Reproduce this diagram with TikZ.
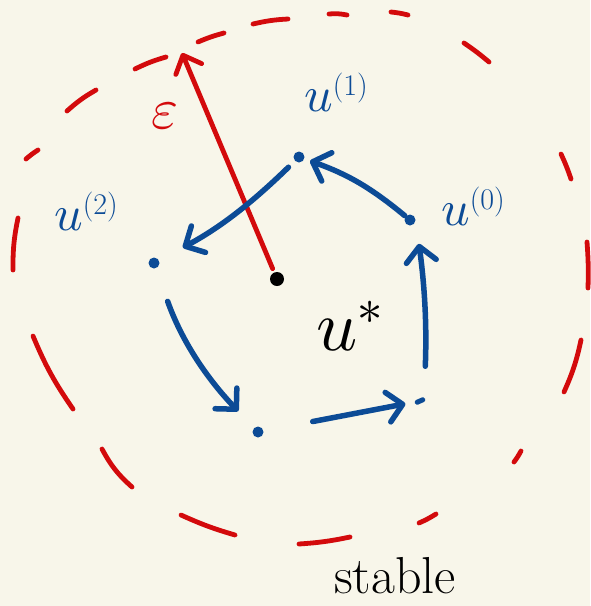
\documentclass[tikz,border=0pt]{standalone}
\usepackage{unicode-math}
\usetikzlibrary{arrows.meta}
\definecolor{bg}{RGB}{248,246,234}
\definecolor{pblue}{RGB}{12,75,150}
\definecolor{pred}{RGB}{211,10,12}
\newcommand{\suplab}[1]{\raisebox{16pt}{\fontsize{30}{30}\selectfont(#1)}}
\begin{document}
\begin{tikzpicture}[x=1pt,y=-1pt,
  bline/.style={draw=pblue,line width=5.5pt,line cap=round,line join=round},
  barrow/.style={bline,-{Straight Barb[length=15pt,width=30pt,round]}},
  rarrow/.style={draw=pred,line width=4.8pt,line cap=round,line join=round,-{Straight Barb[length=15pt,width=28pt,round]}},
  rdash/.style={draw=pred,line width=4.8pt,line cap=round},
  bdot/.style={circle,fill=pblue,inner sep=0pt,minimum size=11pt},
  bdash/.style={rectangle,fill=pblue,inner sep=0pt,minimum width=11pt,minimum height=5pt,rounded corners=2.5pt},
  kdot/.style={circle,fill=black,inner sep=0pt,minimum size=14pt},
  blab/.style={text=pblue,font=\fontsize{50}{50}\selectfont,inner sep=0pt},
  klab/.style={text=black,inner sep=0pt},
  rlab/.style={text=pred,font=\fontsize{58}{58}\selectfont,inner sep=0pt}]
\fill[bg] (0,0) rectangle (590,606);
\useasboundingbox (0,0) rectangle (590,606);
% red dashed circle
\draw[rdash] (13,270) to[bend left=6] (18,218);
\draw[rdash] (26,159) to[bend left=4] (38,150);
\draw[rdash] (67,111) to[bend left=6] (96,90);
\draw[rdash] (135,69) to[bend left=5] (166,57);
\draw[rdash] (198,42) to[bend left=4] (224,33);
\draw[rdash] (253,24) to[bend left=5] (288,19);
\draw[rdash] (329,14) to[bend left=8] (347,15);
\draw[rdash] (391,12) to[bend left=4] (408,15);
\draw[rdash] (464,43) to[bend left=3] (489,62);
\draw[rdash] (561,154) to[bend left=3] (571,179);
\draw[rdash] (587,242) to[bend left=3] (588,288);
\draw[rdash] (581,340) to[bend left=6] (564,392);
\draw[rdash] (521,451) to[bend left=4] (514,462);
\draw[rdash] (436,514) to[bend left=4] (419,523);
\draw[rdash] (350,537) to[bend left=4] (299,544);
\draw[rdash] (235,535) to[bend left=4] (181,515);
\draw[rdash] (132,487) to[bend left=10] (102,449);
\draw[rdash] (73,409) to[bend left=6] (33,336);
% points
\node[bdot] (u0) at (410,220) {};
\node[bdot] (u1) at (299,157) {};
\node[bdot] (u2) at (154,263) {};
\node[bdot] (p3) at (258,432) {};
\node[bdash,rotate=24] (p4) at (420,401) {};
\node[kdot] (us) at (277,279) {};
\coordinate (et) at (182,53);
% red arrow
\draw[rarrow,shorten <=4pt] (us) -- (et);
% blue arrows
\draw[barrow,shorten <=1pt,shorten >=6pt] (u0) to[bend right=10] (u1);
\draw[barrow,shorten <=9pt,shorten >=27pt] (u1) to[bend left=8] (u2);
\draw[barrow,shorten <=35pt,shorten >=23pt] (u2) to[bend right=12] (p3);
\draw[barrow,shorten <=50pt,shorten >=9pt] (p3) -- (p4);
\draw[barrow,shorten <=30pt,shorten >=24pt] (p4.north east) to[bend right=5] (u0.east);
% labels
\node[blab] (l1) at (336,93) {$u$\suplab{1}};
\node[blab] (l0) at (473,207) {$u$\suplab{0}};
\node[blab] (l2) at (86,212) {$u$\suplab{2}};
\node[klab,font=\fontsize{72}{72}\selectfont] (ls) at (350,326) {$u^{*}$};
\node[rlab] (le) at (165,116) {$\varepsilon$};
\node[klab,font=\fontsize{52}{52}\selectfont] (lst) at (395,576) {stable};
\end{tikzpicture}
\end{document}
